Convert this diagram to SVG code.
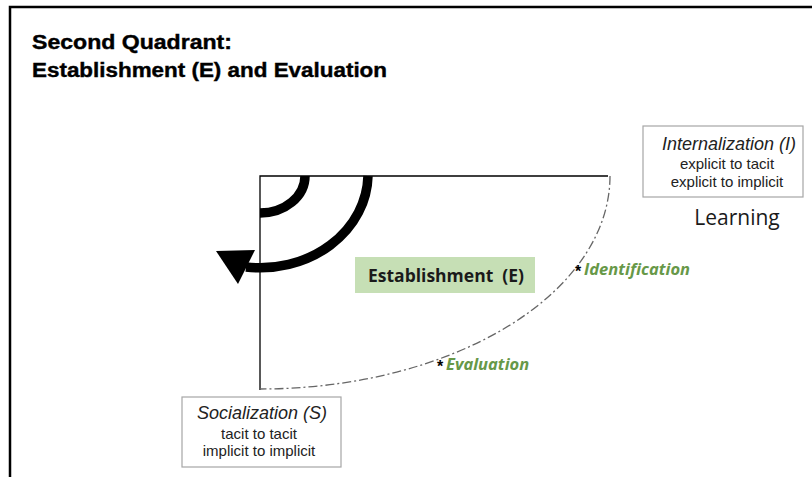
<svg xmlns="http://www.w3.org/2000/svg" width="812" height="477" viewBox="0 0 812 477">
  <style>
    .title { font-family: "Liberation Sans", Arial, sans-serif; font-weight: bold; font-size: 20px; fill: #000; stroke: #000; stroke-width: 0.4; }
    .box { fill: #fff; stroke: #a6a6a6; stroke-width: 1.2; }
    .boxhead { font-family: "Liberation Sans", Arial, sans-serif; font-style: italic; font-size: 18px; fill: #222; text-anchor: middle; }
    .boxsub { font-family: "Liberation Sans", Arial, sans-serif; font-size: 15px; fill: #222; text-anchor: middle; }
    .axis { stroke: #000; stroke-width: 1.3; fill: none; }
    .curve { stroke: #666; stroke-width: 1.3; fill: none; stroke-dasharray: 9 3 2 3; }
    .thick { stroke: #000; stroke-width: 9.5; fill: none; }
    .stage { font-family: "Open Sans", sans-serif; font-weight: bold; font-style: italic; font-size: 16.5px; fill: #679848; }
    .star { font-family: "Liberation Sans", Arial, sans-serif; font-weight: bold; font-size: 16px; fill: #000; }
  </style>

  <!-- frame -->
  <path d="M10,477 V7 H812" fill="none" stroke="#000" stroke-width="2.5"/>

  <!-- heading -->
  <text class="title" x="32" y="49" textLength="200" lengthAdjust="spacingAndGlyphs">Second Quadrant:</text>
  <text class="title" x="32" y="77" textLength="355" lengthAdjust="spacingAndGlyphs">Establishment (E) and Evaluation</text>

  <g id="connectors">
    <!-- quadrant axes -->
    <path class="axis" d="M260,390 V176 H608"/>
    <!-- dash-dot boundary of the quadrant -->
    <path class="curve" d="M610,176 A350,213 0 0 1 260,389"/>
    <!-- rotating arcs -->
    <path class="thick" d="M305,176 A45,37 0 0 1 260,213"/>
    <path class="thick" d="M368,176 A108,94 0 0 1 246,267"/>
    <polygon points="216,251 255,250 238,284" fill="#000"/>
  </g>

  <g id="internalization">
    <rect class="box" x="643" y="126" width="160" height="71"/>
    <text class="boxhead" x="729" y="150">Internalization (I)</text>
    <text class="boxsub" x="727" y="169">explicit to tacit</text>
    <text class="boxsub" x="727" y="187">explicit to implicit</text>
    <text x="737" y="225" font-family="'Open Sans', sans-serif" font-size="21" fill="#1a1a1a" text-anchor="middle">Learning</text>
  </g>

  <g id="socialization">
    <rect class="box" x="182" y="397" width="159" height="70"/>
    <text class="boxhead" x="262" y="419">Socialization (S)</text>
    <text class="boxsub" x="259" y="439">tacit to tacit</text>
    <text class="boxsub" x="259" y="456">implicit to implicit</text>
  </g>

  <g id="establishment">
    <rect x="355" y="257" width="180" height="36" fill="#c6dfb5"/>
    <text x="446" y="282" font-family="'Open Sans', sans-serif" font-weight="bold" font-size="17.5" fill="#1a1a1a" text-anchor="middle" xml:space="preserve">Establishment  (E)</text>
  </g>

  <g id="identification">
    <text class="star" x="575" y="277">*</text>
    <text class="stage" x="584" y="275">Identification</text>
  </g>

  <g id="evaluation">
    <text class="star" x="437" y="372">*</text>
    <text class="stage" x="446" y="370">Evaluation</text>
  </g>
</svg>
